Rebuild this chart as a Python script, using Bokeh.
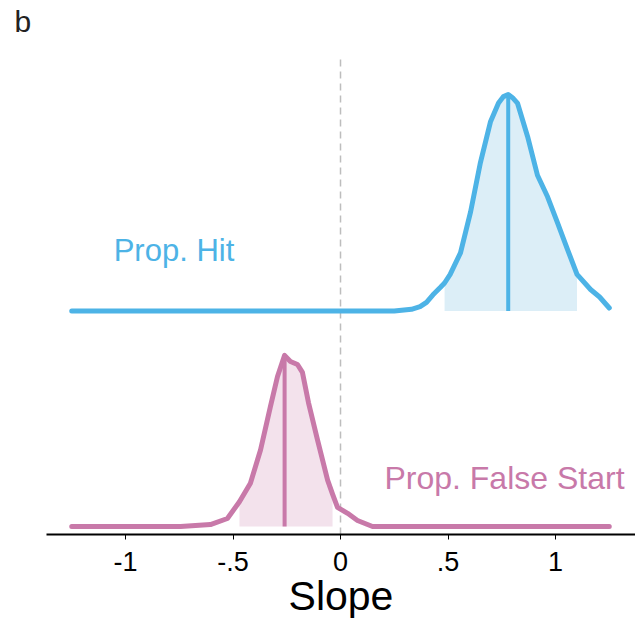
from bokeh.plotting import figure
from bokeh.models import FixedTicker, Label
from bokeh.embed import file_html
from bokeh.resources import INLINE

# ---- data ----
hit_x = [-1.25, 0.25, 0.33, 0.37, 0.40, 0.43, 0.465, 0.484, 0.51, 0.558, 0.605, 0.651,
         0.698, 0.735, 0.758, 0.78, 0.80, 0.823, 0.870, 0.916, 0.963, 1.009, 1.056, 1.10,
         1.163, 1.205, 1.25]
hit_d = [0.0, 0.0, 0.008, 0.02, 0.04, 0.075, 0.11, 0.13, 0.17, 0.27, 0.46, 0.69,
         0.88, 0.965, 0.995, 1.005, 0.99, 0.965, 0.81, 0.63, 0.53, 0.41, 0.285, 0.17,
         0.10, 0.065, 0.014]
hit_median = 0.78
hit_interval = [0.484, 1.10]

fs_x = [-1.25, -0.744, -0.605, -0.526, -0.47, -0.419, -0.372, -0.326, -0.293, -0.26,
        -0.233, -0.200, -0.177, -0.149, -0.107, -0.060, -0.037, -0.014, 0.033, 0.079, 0.149, 1.25]
fs_d = [0.0, 0.0, 0.009, 0.037, 0.115, 0.201, 0.355, 0.556, 0.696, 0.794,
        0.766, 0.752, 0.715, 0.575, 0.402, 0.215, 0.15, 0.089, 0.061, 0.028, 0.0, 0.0]
fs_median = -0.26
fs_interval = [-0.47, -0.037]

tick_values = [-1, -0.5, 0, 0.5, 1]
tick_labels = ["-1", "-.5", "0", ".5", "1"]

series = [
    ("Prop. Hit", hit_x, hit_d, hit_median, hit_interval, 1.0, "#4DB3E6", "#DCEEF7"),
    ("Prop. False Start", fs_x, fs_d, fs_median, fs_interval, 0.0, "#C879A9", "#F3E2EC"),
]

FONT = "Liberation Sans"

p = figure(width=635, height=621, output_backend="svg", toolbar_location=None,
           x_range=(-1.3674, 1.372), y_range=(-0.0372, 2.26),
           y_axis_location=None, min_border_left=46, min_border_right=0,
           min_border_top=0, min_border_bottom=87, title="b")
p.title.text_font = FONT
p.title.text_font_size = "30px"
p.title.text_font_style = "normal"
p.title.text_color = "#222222"
p.title.align = "left"
p.title.offset = -32
p.title.standoff = 4
p.xgrid.visible = False
p.ygrid.visible = False
p.outline_line_color = None
p.background_fill_color = "white"
p.border_fill_color = "white"

# fills (credible intervals)
for name, xs, ds, med, (lo, hi), off, lc, fc in series:
    fx = [x for x in xs if lo <= x <= hi]
    fd = [d + off for x, d in zip(xs, ds) if lo <= x <= hi]
    p.varea(x=fx, y1=[off] * len(fx), y2=fd, fill_color=fc, fill_alpha=1.0)

# zero reference line
p.line(x=[0, 0], y=[-0.0372, 2.18], line_color="#BDBDBD", line_width=1.5, line_dash="7 5")

# density curves and medians
for name, xs, ds, med, (lo, hi), off, lc, fc in series:
    p.line(x=xs, y=[d + off for d in ds], line_color=lc, line_width=5,
           line_cap="round", line_join="round")
    mh = ds[xs.index(med)]
    p.line(x=[med, med], y=[off, off + mh], line_color=lc, line_width=4)

# series labels
p.add_layout(Label(x=-1.055, y=1.283, text="Prop. Hit", text_color="#4DB3E6",
                   text_font=FONT, text_font_size="31px", text_align="left",
                   text_baseline="alphabetic"))
p.add_layout(Label(x=1.321, y=0.226, text="Prop. False Start", text_color="#C879A9",
                   text_font=FONT, text_font_size="32px", text_align="right",
                   text_baseline="alphabetic"))

# x axis
ax = p.xaxis[0]
ax.ticker = FixedTicker(ticks=tick_values, minor_ticks=[])
ax.major_label_overrides = dict(zip(tick_values, tick_labels))
ax.axis_line_width = 2
ax.axis_line_color = "black"
ax.major_tick_out = 5
ax.major_tick_in = 0
ax.major_tick_line_color = "black"
ax.major_tick_line_width = 1
ax.minor_tick_line_color = None
ax.major_label_text_font = FONT
ax.major_label_text_font_size = "27px"
ax.major_label_text_color = "black"
ax.major_label_standoff = 12
ax.axis_label = "Slope"
ax.axis_label_text_font = FONT
ax.axis_label_text_font_size = "41px"
ax.axis_label_text_font_style = "normal"
ax.axis_label_text_color = "black"
ax.axis_label_standoff = -1

open("out.html", "w").write(file_html(p, INLINE))
